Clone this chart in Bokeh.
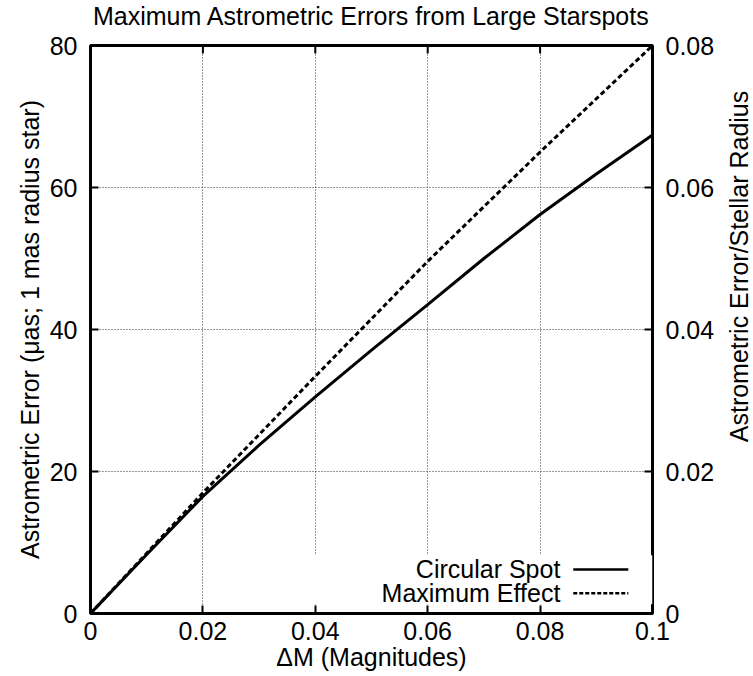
import math
from bokeh.plotting import figure
from bokeh.layouts import column, row
from bokeh.models import (LinearAxis, Range1d, FixedTicker, Label, BoxAnnotation)
from bokeh.embed import file_html
from bokeh.resources import INLINE

# ---- data ----
delta_m = [0.0, 0.01, 0.02, 0.03, 0.04, 0.05, 0.06, 0.07, 0.08, 0.09, 0.1]
circular_spot = [0.0, 8.3, 16.5, 23.7, 30.5, 37.1, 43.5, 50.0, 56.2, 61.9, 67.4]
maximum_effect = [0.0, 8.5, 17.0, 25.2, 33.4, 41.5, 49.6, 57.3, 65.0, 72.5, 80.0]

x_ticks = [0.0, 0.02, 0.04, 0.06, 0.08, 0.1]
x_tick_labels = ["0", "0.02", "0.04", "0.06", "0.08", "0.1"]
y_ticks = [0, 20, 40, 60, 80]
y2_ticks = [0.0, 0.02, 0.04, 0.06, 0.08]
y2_tick_labels = ["0", "0.02", "0.04", "0.06", "0.08"]

series_names = ["Circular Spot", "Maximum Effect"]
title_text = "Maximum Astrometric Errors from Large Starspots"
x_title = "ΔM (Magnitudes)"
y_title = "Astrometric Error (μas; 1 mas radius star)"
y2_title = "Astrometric Error/Stellar Radius"

X_MAX = 0.1
Y_MAX = 80
Y2_MAX = 0.08

FONT = "Liberation Sans"
FS = "25px"

W, H = 753, 676
TITLE_H = 30
SIDE_W = 36
BORDER_L, BORDER_R, BORDER_T, BORDER_B = 90, 101, 45, 63


def blank_fig(width, height):
    f = figure(width=width, height=height, output_backend="svg",
               toolbar_location=None, x_axis_type=None, y_axis_type=None,
               x_range=Range1d(0, 1), y_range=Range1d(0, 1),
               min_border=0)
    f.grid.visible = False
    f.outline_line_color = None
    f.background_fill_color = "white"
    f.border_fill_color = "white"
    return f


# ---------- main plot ----------
p = figure(width=W - SIDE_W, height=H - TITLE_H, output_backend="svg",
           toolbar_location=None,
           x_range=Range1d(0, X_MAX), y_range=Range1d(0, Y_MAX),
           min_border_left=BORDER_L, min_border_right=BORDER_R - SIDE_W,
           min_border_top=BORDER_T - TITLE_H, min_border_bottom=BORDER_B)
p.extra_y_ranges = {"ratio": Range1d(0, Y2_MAX)}

p.outline_line_color = "black"
p.outline_line_width = 3
p.background_fill_color = "white"
p.border_fill_color = "white"


def style_axis(ax):
    ax.axis_line_color = None
    ax.major_tick_in = 8
    ax.major_tick_out = 0
    ax.major_tick_line_width = 2
    ax.major_tick_line_color = "black"
    ax.minor_tick_line_color = None
    ax.major_label_text_font = FONT
    ax.major_label_text_font_size = FS
    ax.major_label_text_color = "black"
    ax.axis_label_text_font = FONT
    ax.axis_label_text_font_size = FS
    ax.axis_label_text_font_style = "normal"
    ax.axis_label_text_color = "black"


# bottom axis
xa = p.xaxis[0]
xa.ticker = FixedTicker(ticks=x_ticks)
xa.major_label_overrides = {t: s for t, s in zip(x_ticks, x_tick_labels)}
xa.axis_label = x_title
style_axis(xa)
xa.major_label_standoff = 8
xa.axis_label_standoff = 0

# left axis
ya = p.yaxis[0]
ya.ticker = FixedTicker(ticks=y_ticks)
ya.axis_label = y_title
style_axis(ya)
ya.major_label_standoff = 13
ya.axis_label_standoff = 3

# right axis (its title sits in the side strip, reading bottom-to-top)
ry = LinearAxis(y_range_name="ratio", ticker=FixedTicker(ticks=y2_ticks))
ry.major_label_overrides = {t: s for t, s in zip(y2_ticks, y2_tick_labels)}
style_axis(ry)
ry.major_label_standoff = 13
p.add_layout(ry, "right")

# mirrored tick marks along the top edge
p.ray(x=x_ticks, y=[Y_MAX] * len(x_ticks), length=8, length_units="screen",
      angle=-math.pi / 2, line_color="black", line_width=2)

# grid
for g in (p.xgrid[0], p.ygrid[0]):
    g.grid_line_color = "#333333"
    g.grid_line_width = 1
    g.grid_line_dash = "1 2"
p.xgrid[0].ticker = FixedTicker(ticks=x_ticks[1:-1])
p.ygrid[0].ticker = FixedTicker(ticks=y_ticks[1:-1])

# key area mask (gnuplot key box hides the grid behind it)
p.add_layout(BoxAnnotation(left=0.037, right=X_MAX, bottom=1.3, top=8.2,
                           fill_color="white", fill_alpha=1.0,
                           line_color=None, level="underlay"))

# data
p.line(delta_m, circular_spot, line_color="black", line_width=3)
p.line(delta_m, maximum_effect, line_color="black", line_width=3,
       line_dash="5 3")

# key (text left of sample, as in the reference)
key_text_x = 0.0836
key_line_x = [0.0859, 0.0957]
key_rows_y = [6.2, 2.85]
key_dashes = ["solid", "4 2"]
for name, ky, dash in zip(series_names, key_rows_y, key_dashes):
    p.add_layout(Label(x=key_text_x, y=ky, text=name, text_align="right",
                       text_baseline="middle", text_font=FONT,
                       text_font_size=FS, text_color="black"))
    p.line(key_line_x, [ky, ky], line_color="black", line_width=2.5,
           line_dash=dash)

# ---------- title strip ----------
frame_w = W - BORDER_L - BORDER_R
frame_h = H - BORDER_T - BORDER_B
tfig = blank_fig(W, TITLE_H)
tfig.add_layout(Label(x=BORDER_L + frame_w / 2, y=TITLE_H - 15.5,
                      x_units="screen", y_units="screen", text=title_text,
                      text_align="center", text_baseline="middle",
                      text_font=FONT, text_font_size=FS, text_color="black"))

# ---------- right-hand axis title strip ----------
sfig = blank_fig(SIDE_W, H - TITLE_H)
sfig.add_layout(Label(x=21.5, y=BORDER_B + frame_h / 2,
                      x_units="screen", y_units="screen", text=y2_title,
                      angle=math.pi / 2, text_align="center",
                      text_baseline="middle", text_font=FONT,
                      text_font_size=FS, text_color="black"))

layout = column(tfig, row(p, sfig, spacing=0), spacing=0)
open("out.html", "w").write(file_html(layout, INLINE))
